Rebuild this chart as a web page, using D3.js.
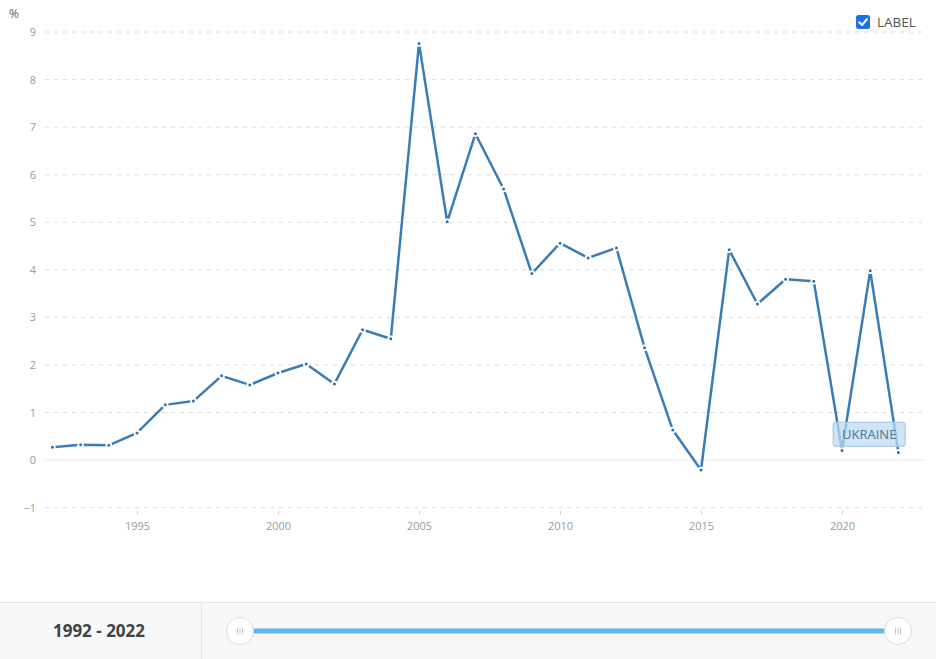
<!DOCTYPE html>
<html>
<head>
<meta charset="utf-8">
<script src="https://cdn.jsdelivr.net/npm/d3@7/dist/d3.min.js"></script>
<style>
  html, body { margin: 0; padding: 0; background: #fff; }
  svg { display: block; font-family: "Open Sans", "Noto Sans", sans-serif; }
</style>
</head>
<body>
<svg id="chart" width="936" height="659"></svg>
<script>
const years = d3.range(1992, 2023);
const values = [0.27, 0.32, 0.31, 0.57, 1.16, 1.24, 1.77, 1.58, 1.83, 2.02,
                1.60, 2.74, 2.55, 8.76, 5.01, 6.86, 5.70, 3.92, 4.56, 4.25,
                4.46, 2.36, 0.63, -0.21, 4.42, 3.28, 3.80, 3.76, 0.20, 3.98, 0.16];
const yTicks = [-1, 0, 1, 2, 3, 4, 5, 6, 7, 8, 9];
const xTicks = [1995, 2000, 2005, 2010, 2015, 2020];
const seriesName = "UKRAINE";
const unitLabel = "%";
const legendLabel = "LABEL";
const rangeLabel = "1992 - 2022";

const data = years.map((y, i) => ({ year: y, value: values[i] }));

const svg = d3.select("#chart");
const x = d3.scaleLinear().domain([1992, 2022]).range([52.4, 898.4]);
const y = d3.scaleLinear().domain([-1, 9]).range([507.6, 32]);

// gridlines
const grid = svg.append("g");
yTicks.forEach(t => {
  grid.append("line")
    .attr("x1", 45).attr("x2", 924)
    .attr("y1", y(t)).attr("y2", y(t))
    .attr("stroke", t === 0 ? "#e9e9ef" : "#dcdcdc")
    .attr("stroke-width", 1)
    .attr("stroke-dasharray", t === 0 ? null : "4,5");
});

// y axis labels
const yAxis = d3.axisLeft(y).tickValues(yTicks).tickSize(0).tickPadding(0);
const gy = svg.append("g").attr("transform", "translate(36,0)").call(yAxis);
gy.select(".domain").remove();
gy.selectAll("text").attr("fill", "#9a9a9a").attr("font-size", 11)
  .attr("font-family", "Open Sans, sans-serif");

// x axis
const xAxis = d3.axisBottom(x).tickValues(xTicks).tickFormat(d3.format("d")).tickSize(4).tickPadding(8);
const gx = svg.append("g").attr("transform", `translate(0,${y(-1) + 3})`).call(xAxis);
gx.select(".domain").remove();
gx.selectAll("line").attr("stroke", "#cfcfcf");
gx.selectAll("text").attr("fill", "#9a9a9a").attr("font-size", 11)
  .attr("font-family", "Open Sans, sans-serif");

// unit label
svg.append("text").attr("x", 9).attr("y", 18).text(unitLabel)
  .attr("fill", "#666").attr("font-size", 12);

// line
const line = d3.line().x(d => x(d.year)).y(d => y(d.value));
svg.append("path").datum(data)
  .attr("d", line)
  .attr("fill", "none")
  .attr("stroke", "#3a7db6")
  .attr("stroke-width", 2.5)
  .attr("stroke-linejoin", "round");

svg.append("g").selectAll("circle").data(data).join("circle")
  .attr("cx", d => x(d.year)).attr("cy", d => y(d.value))
  .attr("r", 2.4)
  .attr("fill", "#2e6fa5")
  .attr("stroke", "#fff")
  .attr("stroke-width", 1.8);

// series label box
const lbx = x(2021) - 1, lby = y(0.54);
const lbl = svg.append("g").attr("transform", `translate(${lbx},${lby})`);
lbl.append("rect").attr("x", -36).attr("y", -12).attr("width", 72).attr("height", 24)
  .attr("rx", 3)
  .attr("fill", "rgba(190, 217, 240, 0.72)")
  .attr("stroke", "#a9cbe8").attr("stroke-width", 1.2);
lbl.append("text").attr("text-anchor", "middle").attr("dy", "0.36em")
  .attr("font-size", 13).attr("fill", "#44789f").text(seriesName);

// legend checkbox
const lg = svg.append("g").attr("transform", "translate(856,15)");
lg.append("rect").attr("width", 14).attr("height", 14).attr("rx", 2.5).attr("fill", "#1a73e8");
lg.append("path").attr("d", "M3.2,7.2 L6,10 L11,4.2").attr("fill", "none")
  .attr("stroke", "#fff").attr("stroke-width", 2).attr("stroke-linecap", "round").attr("stroke-linejoin", "round");
svg.append("text").attr("x", 877).attr("y", 27).text(legendLabel)
  .attr("fill", "#555").attr("font-size", 13.5);

// bottom range panel
const panel = svg.append("g");
panel.append("rect").attr("x", 0).attr("y", 602).attr("width", 936).attr("height", 57).attr("fill", "#f7f8fa");
panel.append("line").attr("x1", 0).attr("x2", 936).attr("y1", 602.5).attr("y2", 602.5).attr("stroke", "#e6e7ea");
panel.append("line").attr("x1", 201.5).attr("x2", 201.5).attr("y1", 603).attr("y2", 659).attr("stroke", "#e6e7ea");
panel.append("text").attr("x", 99).attr("y", 637).attr("text-anchor", "middle")
  .attr("font-size", 17).attr("font-weight", 700).attr("fill", "#444").text(rangeLabel);

const sx = d3.scaleLinear().domain([1992, 2022]).range([240, 898]);
panel.append("line").attr("x1", sx(1992)).attr("x2", sx(2022)).attr("y1", 631).attr("y2", 631)
  .attr("stroke", "#62b6ea").attr("stroke-width", 5);
[1992, 2022].forEach(v => {
  const h = panel.append("g").attr("transform", `translate(${sx(v)},631)`);
  h.append("circle").attr("r", 13.5).attr("fill", "#fff").attr("stroke", "#dcdde0").attr("stroke-width", 1);
  [-2.5, 0, 2.5].forEach(dx => {
    h.append("line").attr("x1", dx).attr("x2", dx).attr("y1", -3.5).attr("y2", 3.5)
      .attr("stroke", "#c8c8cc").attr("stroke-width", 1);
  });
});
</script>
</body>
</html>
